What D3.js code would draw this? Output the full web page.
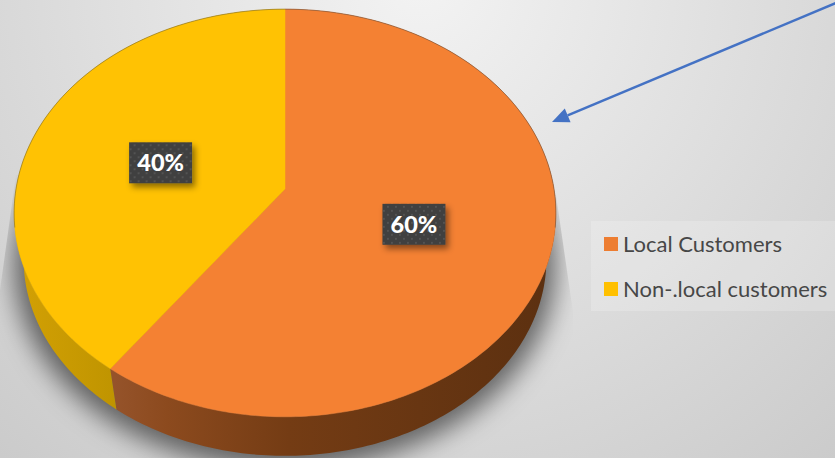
<!DOCTYPE html>
<html>
<head>
<meta charset="utf-8">
<script src="https://cdn.jsdelivr.net/npm/d3@7"></script>
<style>
html,body{margin:0;padding:0;background:#ddd;overflow:hidden}
svg{display:block}
text{font-family:Lato,"Open Sans",sans-serif}
</style>
</head>
<body>
<svg id="chart" width="835" height="458"></svg>
<script>
// Share of customers by origin
const categories = ["Local Customers", "Non-.local customers"];
const shares = [60, 40];
const topColors = ["#f48133", "#ffc203"];
const legendColors = ["#ed7d31", "#ffc000"];

const W = 835, H = 458;
const svg = d3.select("#chart");
const defs = svg.append("defs");

// Perspective disc: unit-circle coordinates projected onto the tilted plane
const centre = {x: 285, y: 189};
const radiusX = 269, radiusY = 201, tilt = 0.1176;
const wallDrop = 47, wallScale = 0.965;

function project(angle, r = 1, drop = 0, scale = 1) {
  const u = Math.sin(angle) * r, v = -Math.cos(angle) * r;
  const w = 1 - tilt * v;
  return [centre.x + scale * radiusX * u / w, centre.y + drop + scale * radiusY * v / w];
}
function arcSamples(d, drop, scale) {
  const n = Math.max(2, Math.ceil((d.endAngle - d.startAngle) * 60));
  return d3.range(n + 1).map(i =>
    project(d.startAngle + (d.endAngle - d.startAngle) * i / n, 1, drop, scale));
}
const line = d3.line();

// Backdrop
const bg = defs.append("radialGradient").attr("id", "bg")
  .attr("gradientUnits", "userSpaceOnUse")
  .attr("cx", 420).attr("cy", -20).attr("r", 650);
bg.append("stop").attr("offset", 0).attr("stop-color", "#f3f3f3");
bg.append("stop").attr("offset", 1).attr("stop-color", "#cacaca");
svg.append("rect").attr("width", W).attr("height", H).attr("fill", "url(#bg)");

// Ground shadow, cut to the wedge the chart area allows
defs.append("filter").attr("id", "ground").attr("x", "-20%").attr("y", "-20%").attr("width", "140%").attr("height", "140%")
  .append("feGaussianBlur").attr("stdDeviation", 13);
defs.append("clipPath").attr("id", "wedge").append("polygon")
  .attr("points", "16,175 556,195 573,312 573,458 0,458 0,290");
const full = {startAngle: 0, endAngle: 2 * Math.PI};
svg.append("g").attr("clip-path", "url(#wedge)")
  .append("path")
  .attr("d", line(arcSamples(full, 52, 1.0)) + "Z")
  .attr("fill", "rgba(0,0,0,0.55)")
  .attr("filter", "url(#ground)");

// Side walls
const pie = d3.pie().sort(null).value(d => d);
const slices = pie(shares);
const wall0 = defs.append("linearGradient").attr("id", "wall0")
  .attr("gradientUnits", "userSpaceOnUse").attr("x1", 115).attr("x2", 550).attr("y1", 0).attr("y2", 0);
[[0, "#95532a"], [0.12, "#8c4a1e"], [0.4, "#743c14"], [1, "#5c3010"]].forEach(s =>
  wall0.append("stop").attr("offset", s[0]).attr("stop-color", s[1]));
const wall1 = defs.append("linearGradient").attr("id", "wall1")
  .attr("gradientUnits", "userSpaceOnUse").attr("x1", 20).attr("x2", 118).attr("y1", 0).attr("y2", 0);
[[0, "#d2a004"], [1, "#bf9400"]].forEach(s =>
  wall1.append("stop").attr("offset", s[0]).attr("stop-color", s[1]));

svg.append("g").selectAll("path").data(slices).join("path")
  .attr("d", d => {
    const rim = arcSamples(d, 0, 1), foot = arcSamples(d, wallDrop, wallScale).reverse();
    return line(rim.concat(foot)) + "Z";
  })
  .attr("fill", (d, i) => `url(#wall${i})`);

// Top faces
svg.append("g").selectAll("path").data(slices).join("path")
  .attr("d", d => line([project(0, 0)].concat(arcSamples(d, 0, 1))) + "Z")
  .attr("fill", (d, i) => topColors[i])
  .attr("stroke", (d, i) => topColors[i])
  .attr("stroke-width", 0.5);

// Fine rim line on the far edge of the disc
const farEdge = {startAngle: -Math.PI * 0.56, endAngle: Math.PI * 0.56};
svg.append("path")
  .attr("d", line(arcSamples(farEdge, 0, 1)))
  .attr("fill", "none").attr("stroke", "rgba(70,70,70,0.5)").attr("stroke-width", 0.8);

// Data labels
const dots = defs.append("pattern").attr("id", "dots")
  .attr("patternUnits", "userSpaceOnUse").attr("width", 8).attr("height", 8);
dots.append("rect").attr("width", 8).attr("height", 8).attr("fill", "#404040");
[[1, 1], [5, 5]].forEach(p =>
  dots.append("rect").attr("x", p[0]).attr("y", p[1]).attr("width", 2).attr("height", 2).attr("fill", "#525252"));
const boxShadow = defs.append("filter").attr("id", "boxShadow")
  .attr("x", "-30%").attr("y", "-30%").attr("width", "160%").attr("height", "170%");
boxShadow.append("feDropShadow").attr("dx", 3).attr("dy", 4).attr("stdDeviation", 3)
  .attr("flood-color", "#000").attr("flood-opacity", 0.45);

const labels = svg.append("g").selectAll("g").data(slices).join("g")
  .attr("transform", d => {
    const p = project((d.startAngle + d.endAngle) / 2, 0.495);
    return `translate(${p[0]},${p[1] + 4.5})`;
  });
labels.append("rect")
  .attr("x", -31.5).attr("y", -21).attr("width", 63).attr("height", 41)
  .attr("fill", "url(#dots)").attr("filter", "url(#boxShadow)");
labels.append("text")
  .attr("x", 0).attr("y", 8)
  .attr("text-anchor", "middle")
  .attr("font-size", 23.5).attr("font-weight", 900).attr("fill", "#fff")
  .text(d => d.data + "%");

// Legend
svg.append("rect").attr("x", 591).attr("y", 221).attr("width", 244).attr("height", 90)
  .attr("fill", "rgba(255,255,255,0.2)");
const rowY = d3.scalePoint().domain(categories).range([244, 289]);
const legend = svg.append("g").selectAll("g").data(categories).join("g")
  .attr("transform", d => `translate(604,${rowY(d)})`);
legend.append("rect").attr("y", -7).attr("width", 14).attr("height", 14)
  .attr("fill", (d, i) => legendColors[i]);
legend.append("text").attr("x", 19).attr("y", 8)
  .attr("font-size", 22).attr("fill", "#474747").text(d => d);

// Pointer arrow towards the disc
const arrowFrom = [836, 3], arrowTo = [552, 122];
const ang = Math.atan2(arrowFrom[1] - arrowTo[1], arrowFrom[0] - arrowTo[0]);
const headLen = 17, headHalf = 7.5;
const base = [arrowTo[0] + headLen * Math.cos(ang), arrowTo[1] + headLen * Math.sin(ang)];
svg.append("line")
  .attr("x1", arrowFrom[0]).attr("y1", arrowFrom[1]).attr("x2", base[0]).attr("y2", base[1])
  .attr("stroke", "#4472c4").attr("stroke-width", 2.4);
svg.append("path")
  .attr("d", line([
    arrowTo,
    [base[0] - headHalf * Math.sin(ang), base[1] + headHalf * Math.cos(ang)],
    [base[0] + headHalf * Math.sin(ang), base[1] - headHalf * Math.cos(ang)]
  ]) + "Z")
  .attr("fill", "#4472c4");
</script>
</body>
</html>
